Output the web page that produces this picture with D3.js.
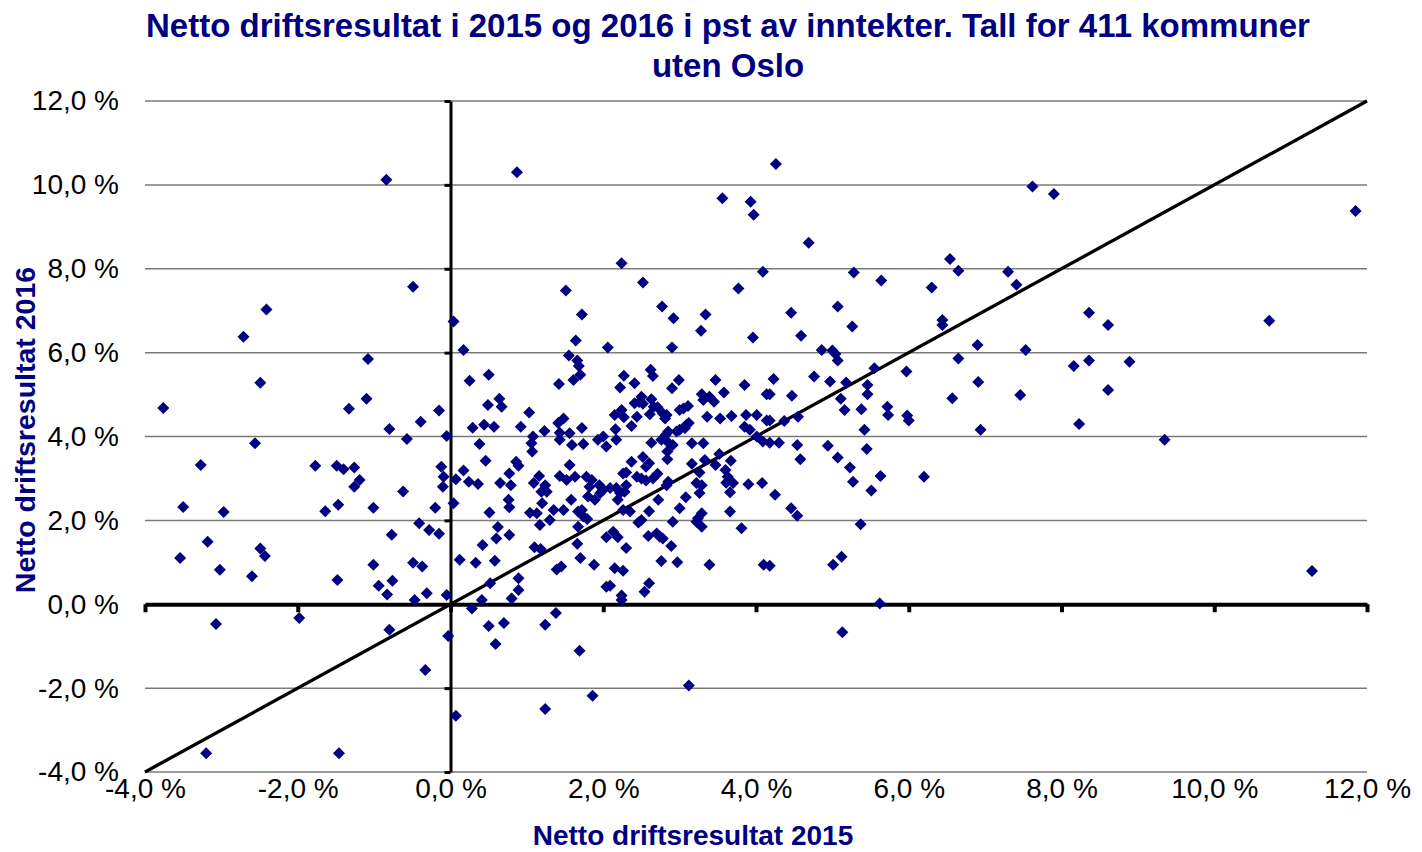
<!DOCTYPE html>
<html>
<head>
<meta charset="utf-8">
<script src="https://cdn.jsdelivr.net/npm/d3@7"></script>
<style>
  body { margin: 0; background: #fff; }
  svg { font-family: "Liberation Sans", Arial, sans-serif; }
</style>
</head>
<body>
<div id="chart"></div>
<script>
// Netto driftsresultat 2015 (x) og 2016 (y), pst av inntekter, per kommune

// kommuner med negativt resultat i 2015
const left2015 = [
  -3.76,-3.50,-3.54,-3.27,-3.18,-2.97,-3.02,-3.07,-3.20,-2.71,
  -2.41,-2.49,-2.56,-2.49,-2.43,-2.60,-1.98,-1.46,-1.77,-1.64,
  -1.49,-1.47,-1.48,-1.33,-1.40,-1.26,-1.19,-1.26,-1.10,-1.08,
  -1.01,-1.01,-0.94,-0.84,-0.80,-0.83,-0.76,-0.80,-0.77,-0.62,
  -0.57,-0.49,-0.49,-0.47,-0.41,-0.39,-0.37,-0.31,-0.28,-0.33,
  -0.15,-0.20,-0.15,-0.12,-0.09,-0.10,-0.05,-0.05,0.04,-0.03,
  0.07,0.04
];
const left2016 = [
  4.68,2.32,1.10,3.32,1.49,2.20,0.82,-0.47,-3.55,6.38,
  7.03,5.28,3.84,1.33,1.15,0.67,-0.33,-3.55,3.30,2.22,
  3.30,2.37,0.58,4.66,3.22,3.26,2.96,2.80,4.90,5.85,
  2.30,0.94,0.44,10.12,4.18,0.23,0.56,-0.61,1.66,2.69,
  3.94,7.57,0.99,0.10,1.93,4.35,0.90,0.26,1.77,-1.57,
  1.68,2.30,4.62,3.28,3.04,2.80,0.22,4.01,6.74,-0.76,
  -2.66,2.41
];

// spredte punkter: topp, hoyre side og under null
const outer2015 = [
  0.87,1.51,2.24,2.52,3.56,3.93,3.97,4.26,4.69,4.09,3.77,5.28,5.64,6.30,
  7.62,7.90,11.85,6.54,6.65,7.30,7.41,6.44,6.44,8.36,8.61,10.72,6.90,6.65,
  7.53,6.91,6.57,7.46,8.16,8.36,8.89,8.61,6.94,8.23,9.35,11.28,6.20,
  0.28,0.41,0.50,0.70,0.59,1.24,1.38,1.69,1.24,1.86,3.12,5.13,5.62,2.24
];
const outer2016 = [
  10.30,7.48,8.13,7.67,9.68,9.60,9.29,10.50,8.62,7.93,7.53,7.91,7.72,7.55,
  9.96,9.78,9.38,8.23,7.95,7.93,7.62,6.78,6.66,6.95,6.66,6.76,6.18,5.86,
  6.06,5.30,4.91,4.99,5.68,5.81,5.78,5.11,4.16,4.30,3.92,0.79,3.04,
  -0.10,0.10,-0.52,-0.45,-0.95,-0.49,-0.21,-1.11,-2.50,-2.18,-1.94,-0.67,0.02,0.10
];

// hovedmassen, 0-2 pst i 2015
const low2015 = [
  1.72,0.17,1.64,2.06,1.55,1.66,1.68,1.70,1.61,0.25,
  0.50,1.42,0.64,0.67,0.49,1.03,0.29,0.44,0.57,0.92,
  1.48,1.41,1.23,1.72,1.56,1.43,1.08,1.06,1.43,0.38,
  1.59,1.74,1.93,2.00,2.04,
  0.46,0.17,0.07,0.24,0.36,0.65,0.86,0.89,0.77,0.79,
  0.76,0.77,0.51,1.07,1.16,1.09,1.24,1.26,1.19,1.43,
  1.52,1.63,1.56,1.78,1.85,1.82,1.95,2.00,1.96,1.80,
  1.89,1.58,1.20,1.04,1.13,1.35,1.48,1.30,1.17,1.67,
  1.72,1.74,1.79,1.67,0.62,0.60,0.77,0.42,1.66,1.10,
  1.18,2.04,0.12,0.33,0.58,1.70,1.88,1.39,1.45,0.52,
  0.89,0.89,0.80,2.04
];
const low2016 = [
  6.91,6.06,6.29,6.12,5.93,5.81,5.68,5.47,5.35,5.33,
  5.47,5.25,4.90,4.71,4.75,4.57,4.21,4.28,4.23,4.23,
  4.43,4.32,4.13,4.20,4.08,4.09,4.00,3.84,3.92,3.82,
  3.80,3.82,3.92,4.00,3.76,
  3.42,3.19,2.98,2.92,2.87,2.89,3.40,3.30,3.12,2.84,
  2.49,2.31,2.19,3.64,3.06,2.89,2.84,2.68,2.68,3.06,
  2.96,3.04,3.32,3.04,2.96,2.80,2.84,2.73,2.65,2.57,
  2.49,2.49,2.41,2.18,2.17,2.25,2.25,2.01,1.89,2.21,
  2.25,2.09,2.03,1.85,1.84,1.57,1.65,1.41,1.44,1.36,
  1.32,1.60,1.06,0.99,1.04,1.10,0.94,0.83,0.90,0.50,
  0.62,0.34,0.14,0.42
];

// hovedmassen, 2-4 pst i 2015
const mid2015 = [
  2.77,2.92,3.34,3.28,3.96,2.90,2.27,2.22,2.62,2.65,
  2.41,2.99,2.90,3.47,3.85,4.14,3.58,3.29,3.39,3.31,
  3.45,2.50,2.47,2.41,2.52,2.63,2.66,2.71,2.24,2.15,
  2.27,2.44,2.61,2.78,2.83,2.81,3.00,3.05,3.11,3.36,
  3.53,3.68,3.87,4.01,4.14,3.09,3.12,3.07,3.00,2.96,
  2.37,2.16,3.85,3.92,2.85,2.82,2.17,2.63,2.76,2.86,
  2.91,3.16,3.31,4.01,4.09,
  2.84,2.84,2.37,2.30,2.26,2.52,2.60,2.56,2.44,2.50,
  2.56,2.65,2.71,3.16,3.26,3.33,3.47,3.52,3.67,3.60,
  3.63,3.70,3.61,3.66,3.90,4.08,2.09,2.17,2.22,2.30,
  2.28,2.19,2.26,2.35,2.85,2.83,2.72,3.08,3.22,3.29,
  3.26,2.60,3.00,2.50,2.46,2.91,3.29,3.24,3.22,3.29,
  3.66,3.81,2.13,2.19,2.59,2.70,2.74,2.78,2.30,2.89,
  2.76,2.97,3.39,4.10,2.15,2.26,2.60,2.54,2.09,2.24
];
const mid2016 = [
  7.10,6.82,6.91,6.52,6.36,6.12,5.45,5.17,5.59,5.44,
  5.27,5.35,5.15,5.35,5.23,5.01,5.05,5.01,4.95,4.87,
  4.83,4.95,4.82,4.79,4.78,4.89,4.71,4.70,4.63,4.51,
  4.46,4.47,4.53,4.55,4.51,4.43,4.63,4.67,4.73,4.47,
  4.43,4.49,4.51,4.51,4.38,4.28,4.32,4.20,4.16,4.12,
  4.25,4.17,4.23,4.16,4.12,4.04,3.92,3.85,3.92,3.84,
  3.80,3.84,3.84,4.00,3.88,
  3.64,3.46,3.40,3.14,3.12,3.51,3.36,3.28,3.04,3.00,
  2.95,3.00,3.11,3.35,3.14,3.44,3.32,3.58,3.42,3.20,
  3.04,2.89,2.90,2.67,2.86,2.89,2.77,2.77,2.65,2.84,
  2.68,2.49,2.25,2.21,2.92,2.84,2.49,2.55,2.89,2.84,
  2.65,2.22,2.29,2.01,1.95,1.97,2.17,2.05,1.97,1.85,
  2.21,1.81,1.73,1.60,1.63,1.69,1.61,1.57,1.34,1.39,
  1.03,1.00,0.94,0.94,0.86,0.80,0.50,0.30,0.44,0.21
];

// 4-6 pst i 2015
const high2015 = [
  5.07,4.46,5.26,4.59,4.86,5.00,5.04,5.07,5.55,5.97,
  4.23,4.76,4.97,5.18,5.46,5.46,4.18,4.47,5.11,5.16,
  5.38,5.72,5.73,5.98,6.00,4.18,4.37,4.55,5.42,4.18,
  4.30,4.54,4.94,5.45,4.58,5.07,5.23,5.27,5.63,5.51,
  4.25,4.46,4.54,5.37,5.12,5.01,4.18
];
const high2016 = [
  7.10,6.95,6.62,6.40,6.06,6.05,5.97,5.81,5.63,5.55,
  5.37,5.43,5.31,5.29,5.23,5.01,5.01,4.97,4.90,4.63,
  4.65,4.71,4.51,4.50,4.38,4.38,4.37,4.47,4.16,3.85,
  3.85,3.80,3.78,3.70,3.46,3.50,3.26,2.92,3.06,2.71,
  2.61,2.29,2.11,1.91,1.13,0.94,0.92
];

const tickValues = [-4, -2, 0, 2, 4, 6, 8, 10, 12];
const titleLines = ["Netto driftsresultat i 2015 og 2016 i pst av inntekter. Tall for 411 kommuner", "uten Oslo"];
const xTitle = "Netto driftsresultat 2015";
const yTitle = "Netto driftsresultat 2016";

const x2015 = [].concat(left2015, outer2015, low2015, mid2015, high2015);
const y2016 = [].concat(left2016, outer2016, low2016, mid2016, high2016);
const points = x2015.map((d, i) => [d, y2016[i]]);

const navy = "#000080";
const fmt = d => d.toFixed(1).replace(".", ",") + " %";

const svg = d3.select("#chart")
  .append("svg")
  .attr("width", 1422)
  .attr("height", 852);

const x = d3.scaleLinear().domain([-4, 12]).range([145, 1367]);
const y = d3.scaleLinear().domain([-4, 12]).range([772, 101]);

// horisontale rutenettlinjer
svg.append("g")
  .selectAll("line")
  .data(tickValues.filter(d => d !== 0))
  .join("line")
  .attr("x1", x(-4))
  .attr("x2", x(12))
  .attr("y1", d => y(d))
  .attr("y2", d => y(d))
  .attr("stroke", "#7a7a7a")
  .attr("stroke-width", 1.5);

// akselinjer gjennom null
const xAxis = svg.append("g")
  .attr("transform", `translate(0,${y(0)})`)
  .call(d3.axisBottom(x).tickValues(tickValues).tickSize(8).tickSizeOuter(0).tickFormat(""));
xAxis.select(".domain").attr("stroke", "#000").attr("stroke-width", 4);
xAxis.selectAll(".tick line").attr("stroke", "#000").attr("stroke-width", 4);

const yAxis = svg.append("g")
  .attr("transform", `translate(${x(0)},0)`)
  .call(d3.axisLeft(y).tickValues(tickValues).tickSize(6).tickSizeOuter(0).tickFormat(""));
yAxis.select(".domain").attr("stroke", "#000").attr("stroke-width", 3);
yAxis.selectAll(".tick line").attr("stroke", "#000").attr("stroke-width", 3);

// tall langs kantene
const xLabels = svg.append("g")
  .attr("transform", `translate(0,${y(-4)})`)
  .call(d3.axisBottom(x).tickValues(tickValues).tickSize(0).tickPadding(6).tickFormat(fmt));
xLabels.select(".domain").remove();
xLabels.selectAll("text").attr("font-size", 28).attr("fill", "#000")
  .attr("font-family", "Liberation Sans, Arial, sans-serif");

const yLabels = svg.append("g")
  .attr("transform", `translate(${x(-4)},0)`)
  .call(d3.axisLeft(y).tickValues(tickValues).tickSize(0).tickPadding(26).tickFormat(fmt));
yLabels.select(".domain").remove();
yLabels.selectAll("text").attr("font-size", 28).attr("fill", "#000")
  .attr("font-family", "Liberation Sans, Arial, sans-serif");

// 45-graderslinje
svg.append("line")
  .attr("x1", x(-4))
  .attr("y1", y(-4))
  .attr("x2", x(12))
  .attr("y2", y(12))
  .attr("stroke", "#000")
  .attr("stroke-width", 3.3);

// kommunene
const diamond = d3.symbol().type(d3.symbolSquare).size(72);
svg.append("g")
  .selectAll("path")
  .data(points)
  .join("path")
  .attr("d", diamond)
  .attr("transform", d => `translate(${x(d[0])},${y(d[1])}) rotate(45)`)
  .attr("fill", navy);

// titler
svg.append("text")
  .attr("x", 728)
  .attr("y", 37)
  .attr("text-anchor", "middle")
  .attr("font-size", 33)
  .attr("font-weight", "bold")
  .attr("fill", navy)
  .selectAll("tspan")
  .data(titleLines)
  .join("tspan")
  .attr("x", 728)
  .attr("dy", (d, i) => i === 0 ? 0 : 40)
  .text(d => d);

svg.append("text")
  .attr("x", 693)
  .attr("y", 845)
  .attr("text-anchor", "middle")
  .attr("font-size", 28)
  .attr("font-weight", "bold")
  .attr("fill", navy)
  .text(xTitle);

svg.append("text")
  .attr("transform", "translate(35,430) rotate(-90)")
  .attr("text-anchor", "middle")
  .attr("font-size", 28.5)
  .attr("font-weight", "bold")
  .attr("fill", navy)
  .text(yTitle);
</script>
</body>
</html>
